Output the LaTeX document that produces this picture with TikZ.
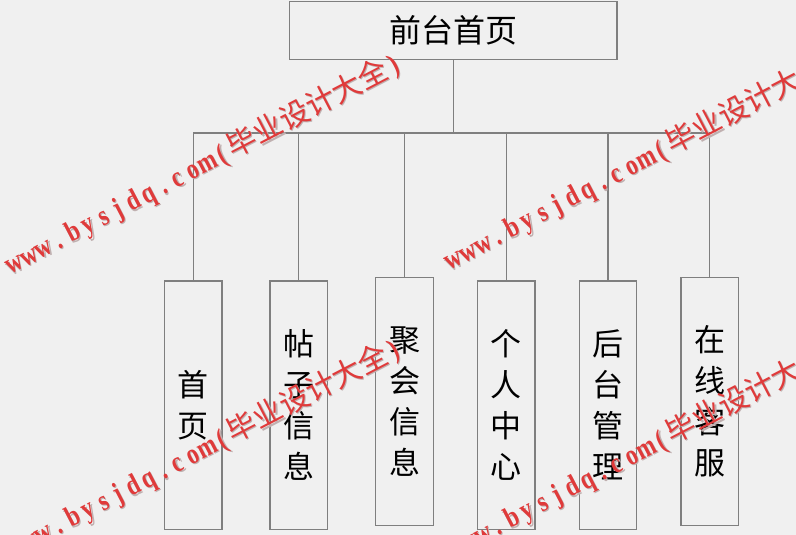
\documentclass[tikz,border=0pt]{standalone}
\usepackage{fontspec}
\usepackage{graphicx}
\newfontfamily\cjk{Noto Sans CJK SC}
\newfontfamily\wmserif{Liberation Serif}
\usetikzlibrary{calc}
\definecolor{bg}{HTML}{F0F0F0}
\definecolor{ln}{HTML}{7F7F7F}
\definecolor{wmred}{HTML}{E03A3A}
\definecolor{wmsh}{HTML}{C0B0B0}
\newcommand\wmcell[1]{\makebox[16.8pt][c]{\scalebox{0.8}[1]{#1}}}
\def\wmloop#1{\ifx#1\relax\else\wmcell{#1}\expandafter\wmloop\fi}
\newcommand\wmtext{{\wmserif\bfseries\fontsize{29}{29}\selectfont\wmloop www.bysjdq.com(\relax}{\cjk\fontsize{29.5}{29.5}\selectfont 毕业设计大全}{\wmserif\bfseries\fontsize{29}{29}\selectfont\wmcell{)}}}
\begin{document}
\begin{tikzpicture}[x=1pt,y=-1pt,
  box/.style={draw=ln, line width=1.2pt, fill=bg, inner sep=0pt},
  rootbox/.style={box, minimum width=327.7pt, minimum height=57.6pt, font=\cjk\fontsize{32}{32}\selectfont},
  childbox/.style={box, minimum width=57.5pt, minimum height=248.3pt, align=center, font=\cjk\fontsize{31}{41}\selectfont},
  conn/.style={draw=ln, line width=1.2pt},
  wm/.style={text=wmred, rotate=27.5, anchor=base west, inner sep=0pt},
  wmshadow/.style={wm, text=wmsh}]
\fill[bg] (0,0) rectangle (796,535);
\useasboundingbox (0,0) rectangle (796,535);
\clip (0,0) rectangle (796,535);
\coordinate (bus) at (0,133);
\node[rootbox] (root) at (453.2,30.5) {前台首页};
\node[childbox] (c1) at (193.3,405.2) {首\\页};
\node[childbox] (c2) at (298.7,405.2) {帖\\子\\信\\息};
\node[childbox] (c3) at (404.5,401.7) {聚\\会\\信\\息};
\node[childbox] (c4) at (506.3,405.2) {个\\人\\中\\心};
\node[childbox] (c5) at (608.0,405.2) {后\\台\\管\\理};
\node[childbox] (c6) at (709.7,401.7) {在\\线\\客\\服};
\foreach \c in {c1,c2,c3,c4,c5,c6}{
  \draw[conn] (root.south) -- (root.south |- bus) -| (\c.north);
}
\node[wmshadow] (ws1) at (11.2,276.2) {\wmtext};
\node[wm] (w1) at (10,275) {\wmtext};
\node[wmshadow] (ws2) at (450.2,272.2) {\wmtext};
\node[wm] (w2) at (449,271) {\wmtext};
\node[wmshadow] (ws3) at (11.2,561.2) {\wmtext};
\node[wm] (w3) at (10,560) {\wmtext};
\node[wmshadow] (ws4) at (450.2,562.2) {\wmtext};
\node[wm] (w4) at (449,561) {\wmtext};
\end{tikzpicture}
\end{document}
